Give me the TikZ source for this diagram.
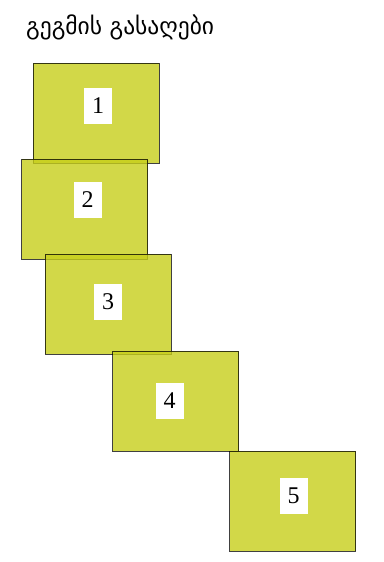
\documentclass[tikz,border=0pt]{standalone}
\usepackage{fontspec}
\newfontfamily\georgianfont{DejaVu Sans}
\newfontfamily\keyfont{Liberation Serif}
\definecolor{plancol}{RGB}{199,206,26}
\begin{document}
\begin{tikzpicture}[x=1pt, y=-1pt,
    planbox/.style={draw=black, fill=plancol, fill opacity=0.8, draw opacity=0.75,
        line width=0.8pt, minimum width=126pt, minimum height=100pt, inner sep=0pt},
    keylabel/.style={fill=white, minimum width=28pt, minimum height=36pt, inner sep=0pt,
        font=\keyfont\fontsize{24}{26}\selectfont}]
    % Vùng hiển thị
    \useasboundingbox (0,0) rectangle (383,562);

    % 1. Tiêu đề
    \node[anchor=west, inner sep=0pt, font=\georgianfont\fontsize{23.5}{26}\selectfont] (title) at (26,27) {გეგმის გასაღები};

    % 2. Các ô của sơ đồ (vẽ theo thứ tự, ô sau đè lên ô trước)
    \node[planbox] (box1) at (96,113) {};
    \node[planbox] (box2) at (84.5,209) {};
    \node[planbox] (box3) at (108,304) {};
    \node[planbox] (box4) at (175.5,401) {};
    \node[planbox] (box5) at (292.5,501) {};

    % 3. Các số trên nền trắng
    \node[keylabel] (key1) at (98,106) {1};
    \node[keylabel] (key2) at (87.5,200) {2};
    \node[keylabel] (key3) at (108,302) {3};
    \node[keylabel] (key4) at (169.5,401) {4};
    \node[keylabel] (key5) at (293.5,496) {5};

\end{tikzpicture}
\end{document}
